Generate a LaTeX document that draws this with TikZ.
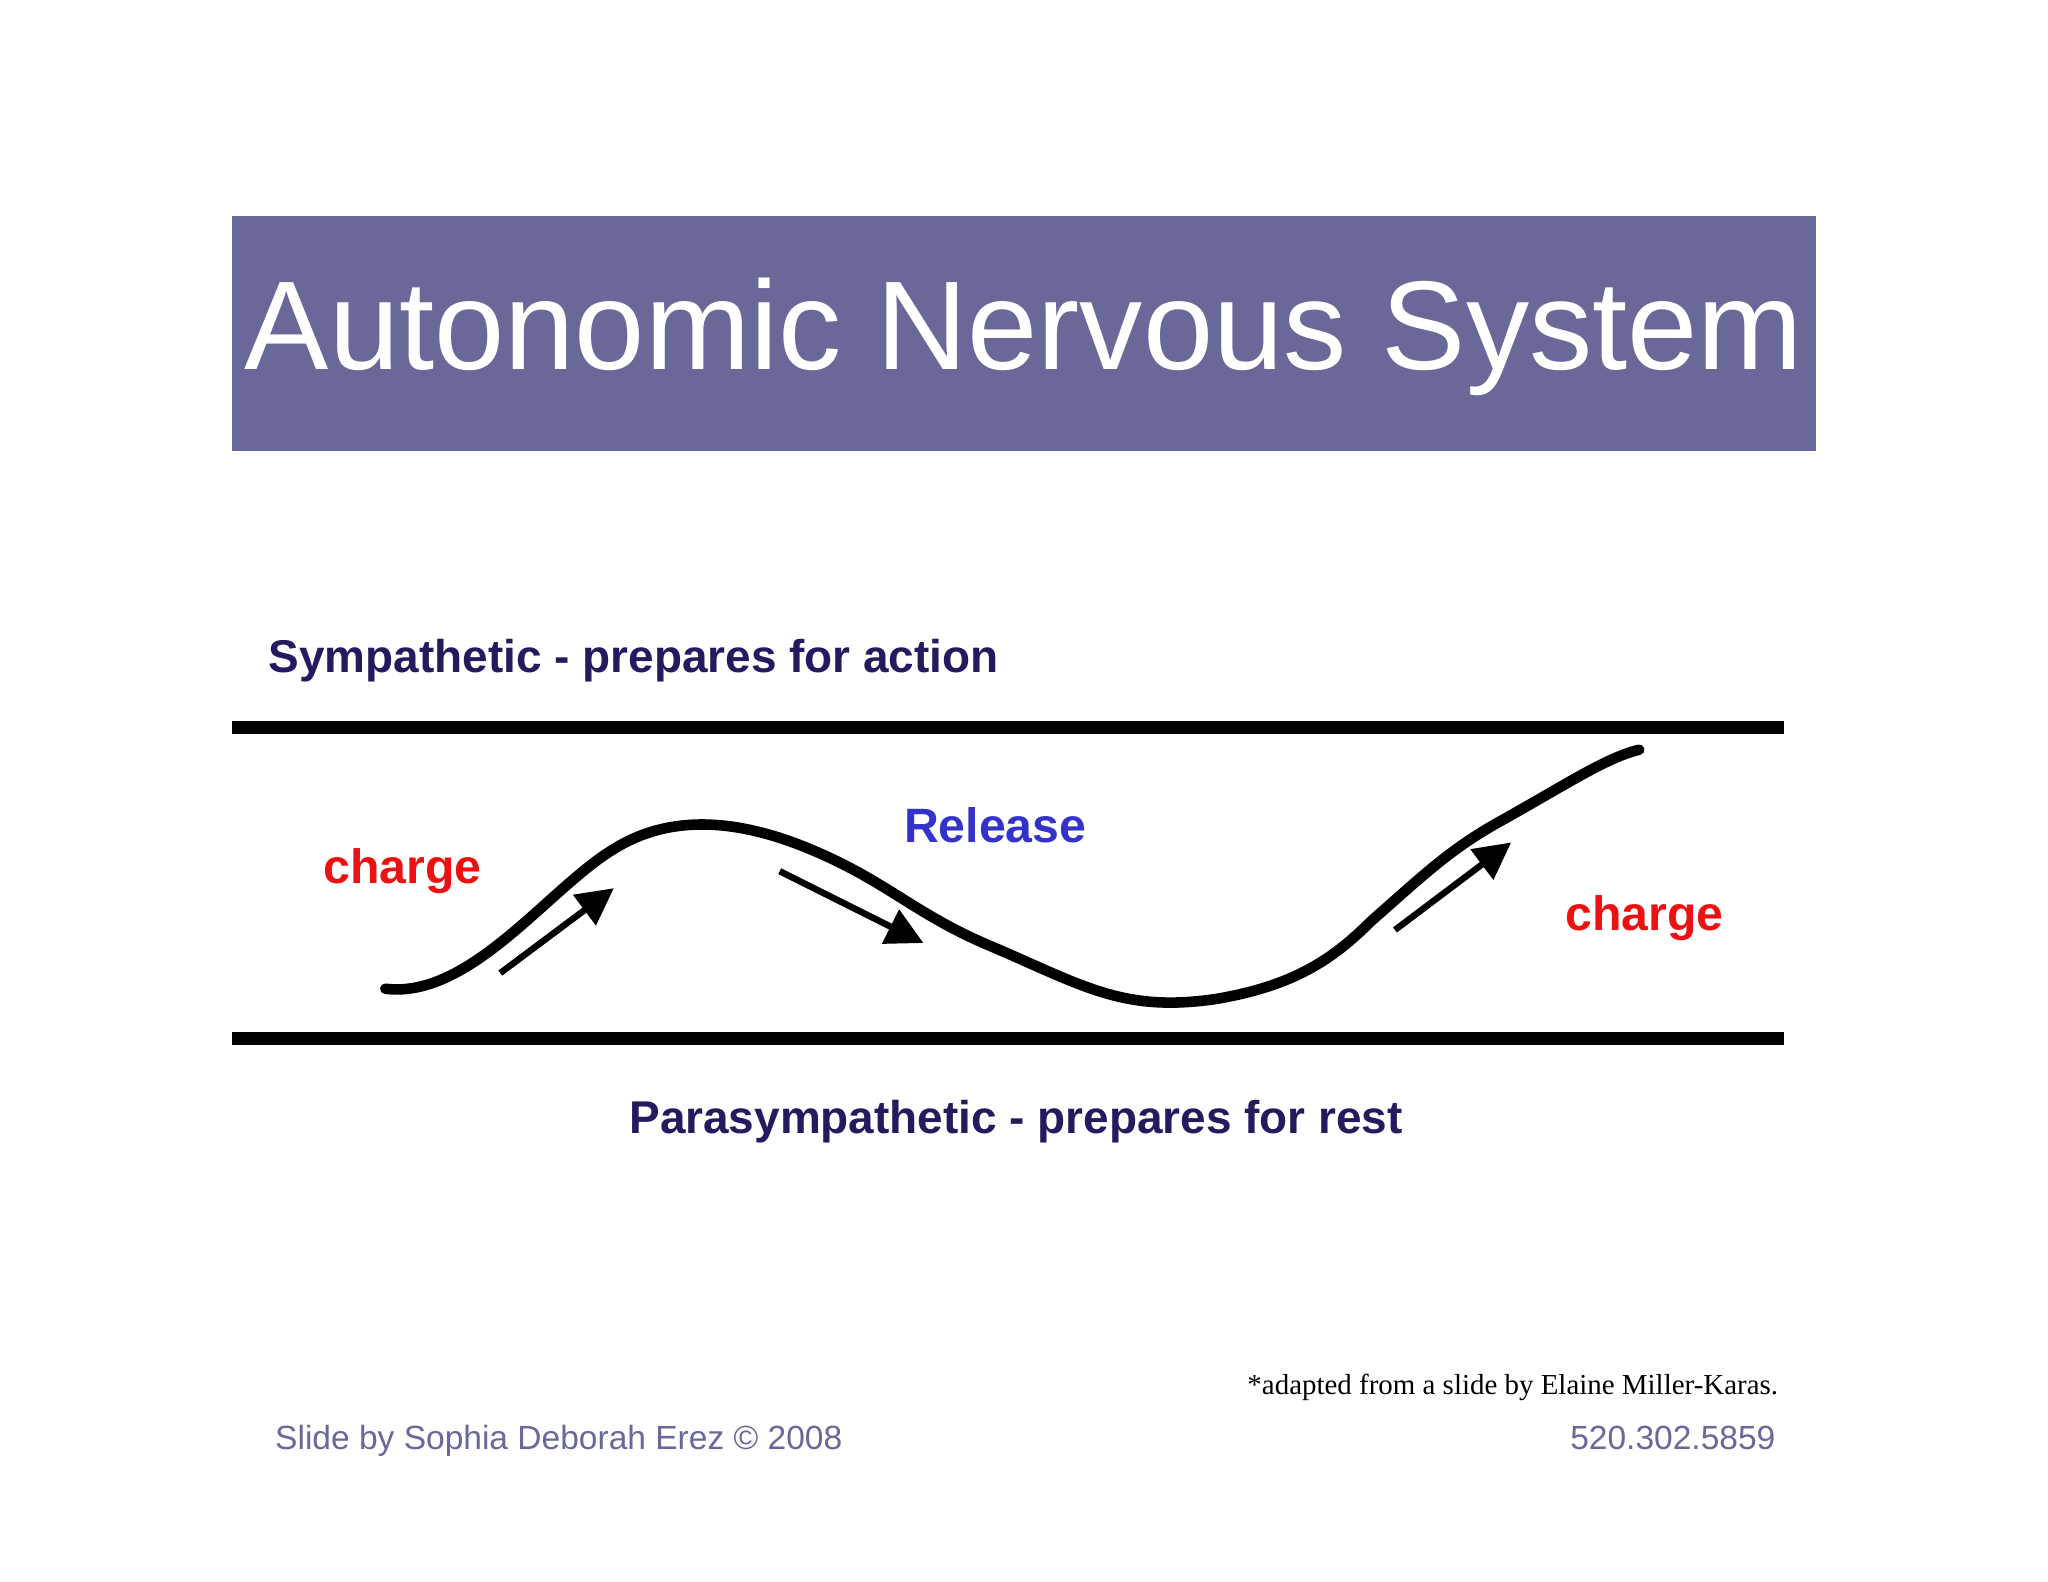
\documentclass[tikz,border=0pt]{standalone}
\usepackage{fontspec}
\setmainfont{Liberation Sans}
\newfontfamily\serifft{Liberation Serif}
\usetikzlibrary{arrows.meta}
\definecolor{titlebg}{HTML}{6A6899}
\definecolor{navy}{HTML}{241A5E}
\definecolor{relblue}{HTML}{3333CC}
\definecolor{chred}{HTML}{EE1111}
\begin{document}
\begin{tikzpicture}[x=0.01cm,y=-0.01cm,
  bar/.style={line width=2.8pt},
  wave/.style={line width=2.3pt,line cap=round},
  flow/.style={line width=1.4pt,-{Triangle[length=8pt,width=8pt]}},
  lbl/.style={font=\fontsize{10}{12}\selectfont\bfseries,text=navy,inner sep=0},
  chg/.style={font=\fontsize{10.5}{12}\selectfont\bfseries,inner sep=0}]
\useasboundingbox (0,0) rectangle (1568,1211);
\fill[white] (0,0) rectangle (1568,1211);
\fill[titlebg] (178,165) rectangle (1390,345);
\node[text=white,font=\fontsize{27.5}{30}\selectfont] (title) at (784,258) {Autonomic Nervous System};
\node[lbl,anchor=base west] (symp) at (205,515) {Sympathetic - prepares for action};
\coordinate (t1) at (178,557); \coordinate (t2) at (1366,557);
\coordinate (b1) at (178,795); \coordinate (b2) at (1366,795);
\draw[bar] (t1) -- (t2);
\draw[bar] (b1) -- (b2);
\draw[wave] (295,757) .. controls (360,765) and (420,680) .. (470,650)
  .. controls (510,625) and (560,625) .. (620,650)
  .. controls (680,675) and (700,700) .. (760,725)
  .. controls (830,755) and (860,775) .. (930,765)
  .. controls (990,755) and (1020,735) .. (1050,705)
  .. controls (1090,670) and (1110,650) .. (1150,628)
  .. controls (1200,600) and (1230,580) .. (1255,574);
\coordinate (a1s) at (383,745); \coordinate (a1e) at (470,680);
\coordinate (a2s) at (597,667); \coordinate (a2e) at (707,722);
\coordinate (a3s) at (1068,712); \coordinate (a3e) at (1157,645);
\draw[flow] (a1s) -- (a1e);
\draw[flow] (a2s) -- (a2e);
\draw[flow] (a3s) -- (a3e);
\node[chg,text=chred] (c1) at (308,667) {charge};
\node[chg,text=relblue] (rel) at (762,632) {Release};
\node[chg,text=chred] (c2) at (1259,703) {charge};
\node[lbl,anchor=base] (para) at (778,868) {Parasympathetic - prepares for rest};
\node[anchor=base east,inner sep=0,font=\serifft\fontsize{6.3}{8}\selectfont] (adapt) at (1362,1068) {*adapted from a slide by Elaine Miller-Karas.};
\node[anchor=base west,inner sep=0,text=titlebg,font=\fontsize{7.3}{9}\selectfont] (credit) at (210,1110) {Slide by Sophia Deborah Erez © 2008};
\node[anchor=base east,inner sep=0,text=titlebg,font=\fontsize{7.3}{9}\selectfont] (phone) at (1360,1110) {520.302.5859};
\end{tikzpicture}
\end{document}
